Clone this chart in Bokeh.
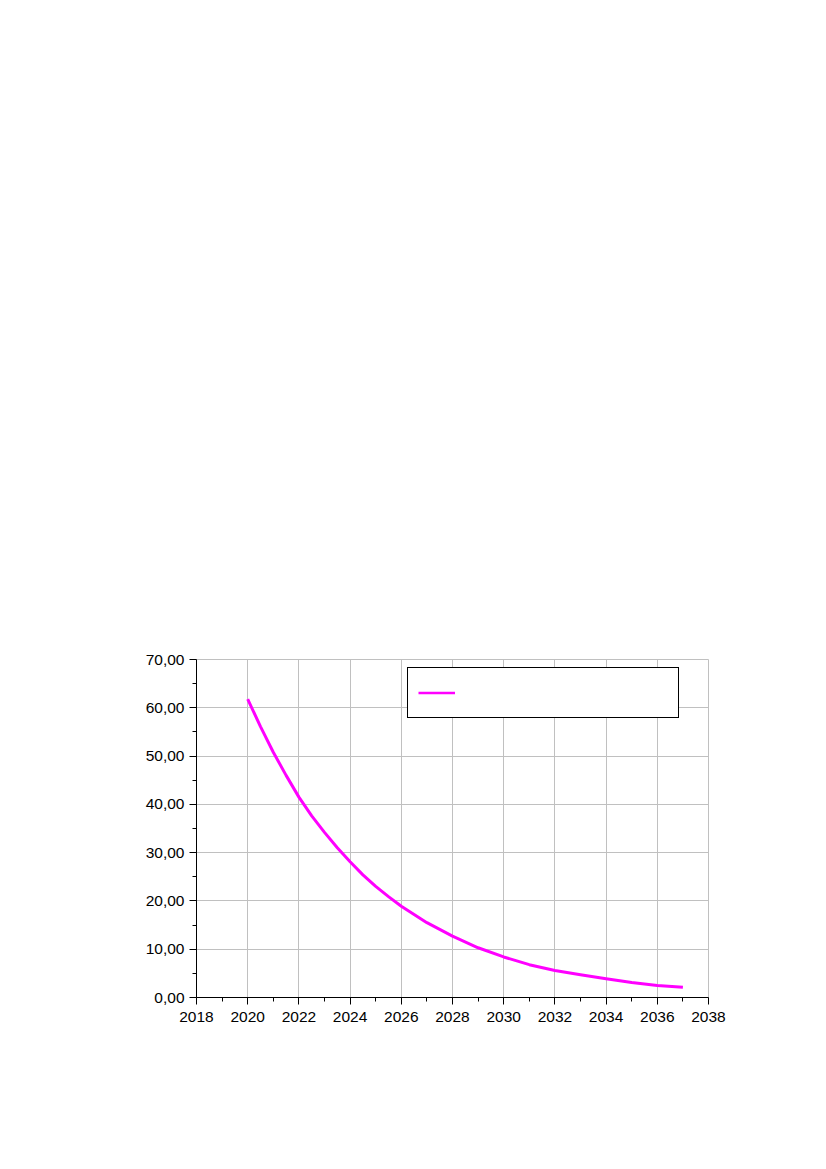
from bokeh.plotting import figure
from bokeh.models import Range1d, FixedTicker, Legend, LegendItem
from bokeh.embed import file_html
from bokeh.resources import INLINE

years = [2020, 2020.5, 2021, 2021.5, 2022, 2022.5, 2023, 2023.5, 2024, 2024.5,
         2025, 2025.5, 2026, 2027, 2028, 2029,
         2030, 2031, 2032, 2033, 2034, 2035, 2036, 2037]
values = [61.8, 56.1, 50.8, 46.0, 41.5, 37.6, 34.2, 31.0, 28.1, 25.4,
          23.0, 20.9, 18.9, 15.5, 12.7, 10.3,
          8.4, 6.8, 5.6, 4.7, 3.9, 3.1, 2.5, 2.1]

x_ticks = list(range(2018, 2039, 2))
x_minor = list(range(2019, 2038, 2))
y_ticks = [0, 10, 20, 30, 40, 50, 60, 70]
y_minor = [5, 15, 25, 35, 45, 55, 65]
y_labels = {t: f"{t},00" for t in y_ticks}

FONT = "Liberation Sans"
MAGENTA = "#ff00ff"

p = figure(width=818, height=1147, output_backend="svg", toolbar_location=None,
           x_range=Range1d(2018, 2038), y_range=Range1d(0, 70),
           frame_width=512, frame_height=338,
           min_border_left=196, min_border_top=659, min_border_right=110,
           min_border_bottom=150)

r = p.line(years, values, line_color=MAGENTA, line_width=3, line_join="round")
r_leg = p.line(x=[years[0]], y=[float("nan")], line_color=MAGENTA, line_width=2.5)

for ax in (p.xaxis[0], p.yaxis[0]):
    ax.axis_line_color = "black"
    ax.major_tick_line_color = "black"
    ax.minor_tick_line_color = "black"
    ax.major_tick_out = 7
    ax.major_tick_in = 0
    ax.minor_tick_out = 4
    ax.minor_tick_in = 0
    ax.major_label_text_font = FONT
    ax.major_label_text_font_size = "15.5px"
    ax.major_label_text_color = "black"

p.xaxis[0].major_label_standoff = 7
p.yaxis[0].major_label_standoff = 5

p.xaxis[0].ticker = FixedTicker(ticks=x_ticks, minor_ticks=x_minor)
p.yaxis[0].ticker = FixedTicker(ticks=y_ticks, minor_ticks=y_minor)
p.yaxis[0].major_label_overrides = y_labels

p.xgrid[0].ticker = FixedTicker(ticks=x_ticks)
p.ygrid[0].ticker = FixedTicker(ticks=y_ticks)
for g in (p.xgrid[0], p.ygrid[0]):
    g.grid_line_color = "#c0c0c0"
    g.grid_line_width = 1
    g.grid_line_alpha = 1

p.outline_line_color = "#c0c0c0"
p.background_fill_color = "white"
p.border_fill_color = "white"

legend = Legend(items=[LegendItem(label=" ", renderers=[r_leg])],
                location=(211, 279), orientation="vertical",
                border_line_color="black", border_line_width=1, border_line_alpha=1,
                background_fill_color="white", background_fill_alpha=1,
                padding=10, spacing=0, margin=0,
                glyph_width=37, glyph_height=29,
                label_width=208, label_height=29, label_standoff=5,
                label_text_font_size="15px")
p.add_layout(legend, "center")

open("out.html", "w").write(file_html(p, INLINE))
